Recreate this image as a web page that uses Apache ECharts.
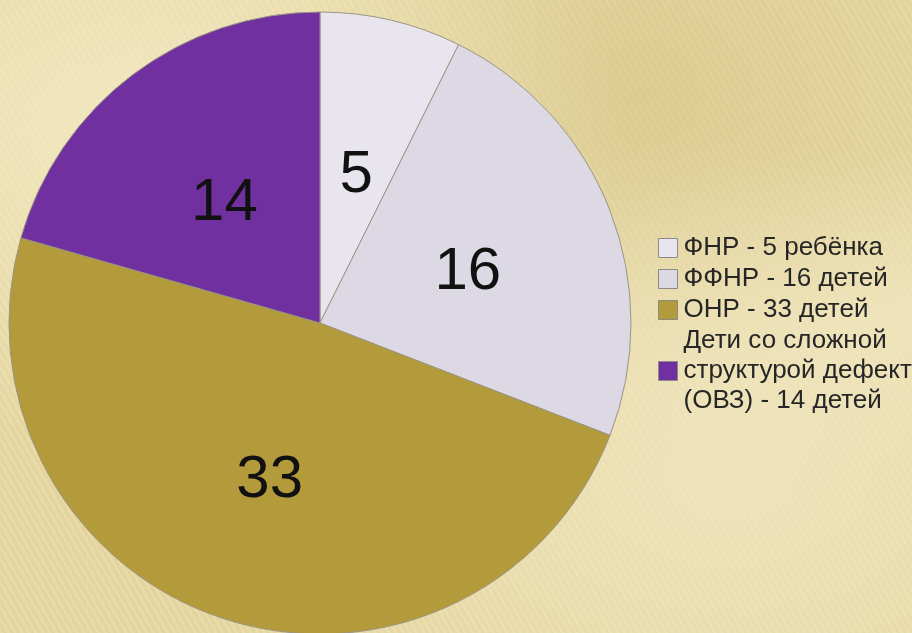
<!DOCTYPE html>
<html>
<head>
<meta charset="utf-8">
<script src="https://cdn.jsdelivr.net/npm/echarts@6/dist/echarts.min.js"></script>
<style>
html,body{margin:0;padding:0;width:912px;height:633px;overflow:hidden;}
body{
  background-color:#e6d7a2;
  background-image:
    radial-gradient(ellipse at 15% 20%, rgba(245,236,200,0.8) 0%, rgba(245,236,200,0) 45%),
    radial-gradient(ellipse at 80% 75%, rgba(242,232,196,0.75) 0%, rgba(242,232,196,0) 50%),
    radial-gradient(ellipse at 70% 15%, rgba(214,196,134,0.6) 0%, rgba(214,196,134,0) 40%),
    radial-gradient(ellipse at 95% 50%, rgba(240,230,190,0.7) 0%, rgba(240,230,190,0) 35%),
    repeating-linear-gradient(60deg, rgba(255,250,225,0.12) 0px, rgba(255,250,225,0.12) 2px, rgba(200,180,120,0.08) 3px, rgba(200,180,120,0.08) 6px);
}
#chart{width:912px;height:633px;}
</style>
</head>
<body>
<div id="chart"></div>
<script>
// Data
var categories = ['ФНР - 5 ребёнка', 'ФФНР - 16 детей', 'ОНР - 33 детей', 'Дети со сложной\nструктурой дефекта\n(ОВЗ) - 14 детей'];
var values = [5, 16, 33, 14];
var colors = ['#e8e5ef', '#dcd9e4', '#b39a3a', '#7030a0'];

var chart = echarts.init(document.getElementById('chart'), null, {renderer: 'canvas'});
var data = categories.map(function (c, i) {
  return { name: c, value: values[i], itemStyle: { color: colors[i] } };
});
chart.setOption({
  backgroundColor: 'transparent',
  animation: false,
  legend: {
    orient: 'vertical',
    left: 658,
    top: 233,
    padding: 0,
    itemGap: 1,
    itemWidth: 19,
    itemHeight: 19,
    icon: 'rect',
    itemStyle: { borderColor: '#8c8a86', borderWidth: 1 },
    textStyle: {
      fontFamily: 'Liberation Sans, Arial, sans-serif',
      fontSize: 26,
      color: '#262626',
      lineHeight: 30,
      padding: [0, 0, 0, 1]
    },
    data: categories
  },
  series: [{
    type: 'pie',
    center: [320, 323],
    radius: [0, 311],
    startAngle: 90,
    clockwise: true,
    avoidLabelOverlap: false,
    itemStyle: { borderColor: '#9a9482', borderWidth: 1 },
    label: {
      show: true,
      position: 'inside',
      formatter: '{c}',
      fontFamily: 'Liberation Sans, Arial, sans-serif',
      fontSize: 60,
      color: '#111111',
      offset: [0, 7]
    },
    labelLine: { show: false },
    emphasis: { disabled: true },
    data: data
  }]
});
</script>
</body>
</html>
